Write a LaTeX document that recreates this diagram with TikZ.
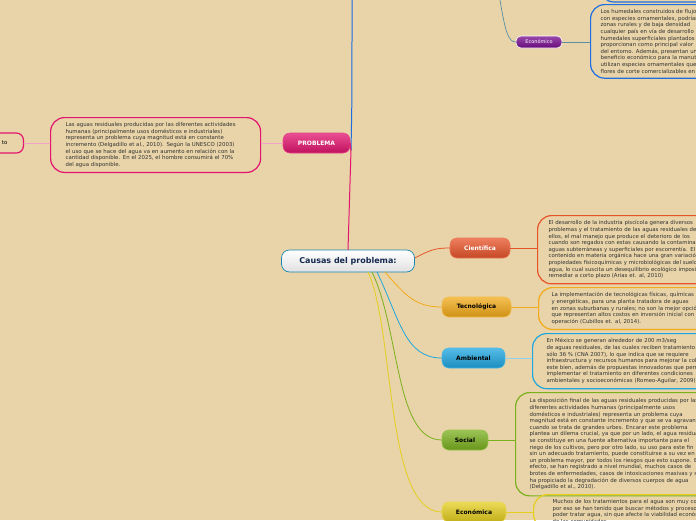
\documentclass[tikz,border=0pt]{standalone}
\usepackage{fontspec}
\setmainfont{DejaVu Sans}
\usetikzlibrary{positioning,calc}

\definecolor{paper}{RGB}{232,212,168}
\definecolor{magen}{RGB}{226,20,110}
\definecolor{cien}{RGB}{232,84,42}
\definecolor{tecn}{RGB}{242,170,24}
\definecolor{ambi}{RGB}{30,166,224}
\definecolor{soci}{RGB}{122,176,30}
\definecolor{econ}{RGB}{228,206,30}
\definecolor{purp}{RGB}{120,12,144}
\definecolor{boxblue}{RGB}{30,110,226}
\definecolor{navy}{RGB}{20,40,80}

\tikzset{
  branch/.style={rounded corners=7pt, minimum height=20pt, inner xsep=7pt,
    font=\fontsize{6}{7}\selectfont\bfseries, draw=#1!80!white, line width=0.6pt,
    top color=#1!75!white, bottom color=#1!85!black},
  textbox/.style={rounded corners=14pt, draw=#1, line width=1.2pt, align=left,
    anchor=north west, inner xsep=15pt, inner ysep=5pt,
    font=\fontsize{5.4}{6.6}\selectfont, text=black!80},
  link/.style={line width=0.8pt, draw=#1}
}

\begin{document}
\begin{tikzpicture}[x=1pt, y=-1pt, line cap=round, line join=round]

% --- canvas ---
\useasboundingbox (0,0) rectangle (696,520);
\clip (0,0) rectangle (696,520);
\fill[paper] (0,0) rectangle (696,520);

% ------------------ centre ------------------
\node[rounded corners=8pt, draw=ambi!80!black, line width=0.7pt, top color=white,
  bottom color=black!12, minimum height=22pt, minimum width=133pt,
  font=\fontsize{8}{9}\selectfont\bfseries, text=navy] (causas) at (348,261) {Causas del problema:};

% ------------------ upper part ------------------
\coordinate (top) at (352,0);
\coordinate (topr) at (500,0);
\coordinate (fork) at (351,150);
\draw[line width=1pt, boxblue] (fork) .. controls (352,100) .. (top);

\node[branch=magen, text=white, minimum width=67pt] (problema) at (316.5,143) {PROBLEMA};
\draw[line width=1pt, magen] (causas.north) .. controls (350,200) .. (fork);
\draw[line width=1pt, magen] (fork) .. controls (350,143) .. (problema.east);

\node[textbox=magen, text width=180pt] (ptext) at (50,117)
  {Las aguas residuales producidas por las diferentes actividades\\
   humanas (principalmente usos domésticos e industriales)\\
   representa un problema cuya magnitud está en constante\\
   incremento (Delgadillo et al., 2010). Según la UNESCO (2003)\\
   el uso que se hace del agua va en aumento en relación con la\\
   cantidad disponible. En el 2025, el hombre consumirá el 70\%\\
   del agua disponible.};
\draw[link=magen!40] (ptext.east |- problema) -- (problema.west);

\node[draw=magen, line width=1.2pt, rounded corners=7pt, minimum height=20pt,
  inner xsep=0pt, font=\fontsize{5.4}{6}\selectfont, anchor=east] (left) at (24,143)
  {\hspace*{30pt}to\hspace*{16pt}};
\draw[link=magen!40] (left.east) -- (ptext.west |- left);

% economic box at the top right
\node[branch=purp, text=white, font=\fontsize{5}{6}\selectfont, minimum height=12pt,
  minimum width=46pt, rounded corners=5pt, draw=white] (econtop) at (539,42) {Económico};
\draw[line width=0.7pt, ambi!40!gray] (topr) .. controls (505,30) and (508,42) .. (econtop.west);

\node[textbox=boxblue, text width=150pt, inner xsep=10pt] (etext) at (590,4)
  {Los humedales construidos de flujo\\
   con especies ornamentales, podrían\\
   zonas rurales y de baja densidad\\
   cualquier país en vía de desarrollo\\
   humedales superficiales plantados\\
   proporcionan como principal valor\\
   del entorno. Además, presentan un\\
   beneficio económico para la manutención\\
   utilizan especies ornamentales que\\
   flores de corte comercializables en};
\draw[link=ambi!40!gray] (econtop.east) -- (etext.west |- econtop);
\draw[boxblue, line width=1.2pt, rounded corners=14pt] (600,-20) -- (600,2) -- (700,2);

% ------------------ causes ------------------
\node[branch=cien, text=white, minimum width=60pt] (cientifica) at (480,248) {Científica};
\node[branch=tecn, minimum width=69pt] (tecnologica) at (476.5,307) {Tecnológica};
\node[branch=ambi, minimum width=63pt] (ambiental) at (473.5,358) {Ambiental};
\node[branch=soci, minimum width=46pt] (social) at (465,440) {Social};
\node[branch=econ, minimum width=64pt] (economica) at (474,512) {Económica};

\draw[link=cien] (causas.east) ++(0,-3) .. controls (430,250) and (435,248) .. (cientifica.west);
\draw[link=tecn] (385,272) .. controls (405,295) and (415,307) .. (tecnologica.west);
\draw[link=ambi] (377,272) .. controls (400,320) and (405,358) .. (ambiental.west);
\draw[link=soci] (372,272) .. controls (400,330) and (395,440) .. (social.west);
\draw[link=econ] (368,272) .. controls (395,330) and (385,512) .. (economica.west);

\node[textbox=cien, text width=170pt, inner xsep=11pt] (ctext) at (537,215)
  {El desarrollo de la industria piscícola genera diversos\\
   problemas y el tratamiento de las aguas residuales de\\
   ellos, el mal manejo que produce el deterioro de los\\
   cuando son regados con estas causando la contaminación\\
   aguas subterráneas y superficiales por escorrentía. El\\
   contenido en materia orgánica hace una gran variación\\
   propiedades fisicoquímicas y microbiológicas del suelo\\
   agua, lo cual suscita un desequilibrio ecológico imposible\\
   remediar a corto plazo (Arias et. al, 2010)};
\draw[link=cien] (cientifica.east) -- (ctext.west |- cientifica);

\node[textbox=tecn, text width=170pt, inner xsep=13pt] (ttext) at (538,287)
  {La implementación de tecnológicas físicas, químicas\\
   y energéticas, para una planta tratadora de aguas\\
   en zonas suburbanas y rurales; no son la mejor opción\\
   que representan altos costos en inversión inicial con\\
   operación (Cubillos et. al, 2014).};
\draw[link=tecn] (tecnologica.east) -- (ttext.west |- tecnologica);

\node[textbox=ambi, text width=175pt, inner xsep=14pt] (atext) at (532,333)
  {En México se generan alrededor de 200 m3/seg\\
   de aguas residuales, de las cuales reciben tratamiento\\
   sólo 36 \% (CNA 2007), lo que indica que se requiere\\
   infraestructura y recursos humanos para mejorar la cobertura\\
   este bien, además de propuestas innovadoras que permitan\\
   implementar el tratamiento en diferentes condiciones\\
   ambientales y socioeconómicas (Romeo-Aguilar, 2009)};
\draw[link=ambi!50] (ambiental.east) -- (atext.west |- ambiental);

\node[textbox=soci, text width=190pt, inner xsep=14pt, inner ysep=6pt] (stext) at (515,392)
  {La disposición final de las aguas residuales producidas por las\\
   diferentes actividades humanas (principalmente usos\\
   domésticos e industriales) representa un problema cuya\\
   magnitud está en constante incremento y que se va agravando\\
   cuando se trata de grandes urbes. Encarar este problema\\
   plantea un dilema crucial, ya que por un lado, el agua residual\\
   se constituye en una fuente alternativa importante para el\\
   riego de los cultivos, pero por otro lado, su uso para este fin\\
   sin un adecuado tratamiento, puede constituirse a su vez en\\
   un problema mayor, por todos los riesgos que esto supone. En\\
   efecto, se han registrado a nivel mundial, muchos casos de\\
   brotes de enfermedades, casos de intoxicaciones masivas y se\\
   ha propiciado la degradación de diversos cuerpos de agua\\
   (Delgadillo et al., 2010).};
\draw[link=soci] (social.east) -- (stext.west |- social);

\node[textbox=econ, text width=175pt, inner xsep=19pt] (etext2) at (533,494)
  {Muchos de los tratamientos para el agua son muy costosos\\
   por eso se han tenido que buscar métodos y procesos\\
   poder tratar agua, sin que afecte la viabilidad económica\\
   de las comunidades};
\draw[link=econ] (economica.east) -- (etext2.west |- economica);

\end{tikzpicture}
\end{document}
